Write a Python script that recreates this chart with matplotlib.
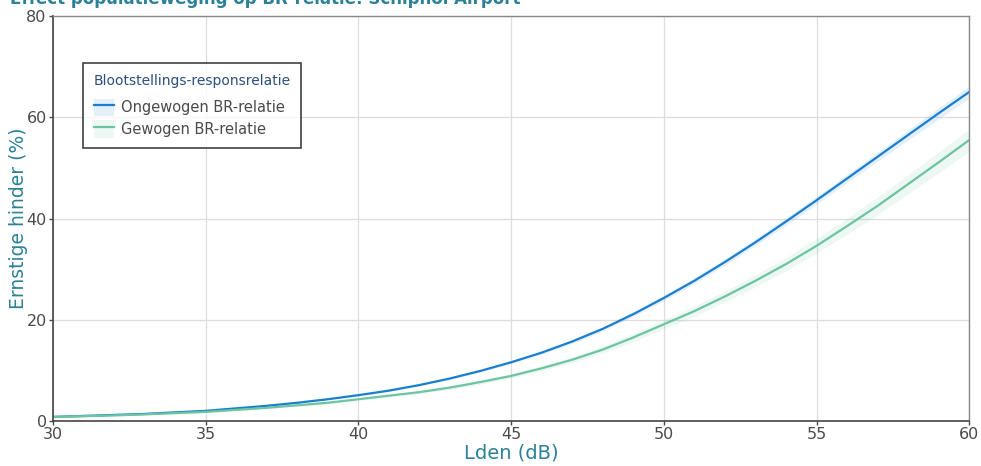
import matplotlib
matplotlib.use("Agg")
import matplotlib.pyplot as plt
from matplotlib.lines import Line2D
from matplotlib.patches import Patch
import numpy as np

# --- data ---
lden = [30, 31, 32, 33, 34, 35, 36, 37, 38, 39, 40, 41, 42, 43, 44, 45,
        46, 47, 48, 49, 50, 51, 52, 53, 54, 55, 56, 57, 58, 59, 60]
ongewogen = [0.8, 1.0, 1.2, 1.4, 1.7, 2.0, 2.5, 3.0, 3.6, 4.3, 5.1, 6.0, 7.1,
             8.4, 9.9, 11.6, 13.5, 15.7, 18.2, 21.1, 24.3, 27.7, 31.4, 35.3,
             39.4, 43.6, 47.9, 52.2, 56.5, 60.8, 65.0]
ongewogen_ci = [0.1, 0.1, 0.1, 0.1, 0.1, 0.1, 0.1, 0.1, 0.1, 0.1, 0.15, 0.15,
                0.15, 0.2, 0.2, 0.25, 0.3, 0.35, 0.4, 0.45, 0.5, 0.55, 0.6,
                0.65, 0.7, 0.75, 0.8, 0.9, 1.0, 1.1, 1.2]
gewogen = [0.8, 0.95, 1.1, 1.3, 1.55, 1.8, 2.2, 2.6, 3.1, 3.6, 4.3, 5.0, 5.7,
           6.6, 7.7, 8.9, 10.4, 12.1, 14.1, 16.5, 19.1, 21.7, 24.6, 27.7,
           31.0, 34.6, 38.5, 42.5, 46.8, 51.1, 55.5]
gewogen_ci = [0.1, 0.1, 0.1, 0.1, 0.1, 0.15, 0.15, 0.15, 0.2, 0.2, 0.25, 0.25,
              0.3, 0.35, 0.4, 0.45, 0.5, 0.6, 0.7, 0.8, 0.9, 1.0, 1.1, 1.2,
              1.3, 1.45, 1.6, 1.75, 1.9, 2.05, 2.2]

BLUE = '#1a7fcf'
GREEN = '#6cc4a0'
TEAL = '#2b8197'
GREY = '#4a4a4a'

fig = plt.figure(figsize=(9.81, 4.66), dpi=100)
ax = fig.add_axes([0.054, 0.0966, 0.934, 0.869])

x = np.array(lden)
for y, ci, col in [(ongewogen, ongewogen_ci, BLUE),
                   (gewogen, gewogen_ci, GREEN)]:
    y = np.array(y)
    ci = np.array(ci)
    ax.fill_between(x, y - ci, y + ci, color=col, alpha=0.12, lw=0)
    ax.plot(x, y, color=col, lw=1.6)

ax.set_xlim(30, 60)
ax.set_ylim(0, 80)
ax.set_xticks([30, 35, 40, 45, 50, 55, 60])
ax.set_yticks([0, 20, 40, 60, 80])
ax.grid(True, color='#dddddd', lw=0.9)
ax.set_axisbelow(True)
ax.tick_params(labelsize=11.5, colors=GREY, length=3, width=1, pad=1.5)
for s in ['left', 'bottom']:
    ax.spines[s].set_color('#444444')
    ax.spines[s].set_linewidth(1.2)
for s in ['top', 'right']:
    ax.spines[s].set_color('#888888')
    ax.spines[s].set_linewidth(1.0)

ax.set_xlabel('Lden (dB)', fontsize=14, color=TEAL, labelpad=1)
ax.set_ylabel('Ernstige hinder (%)', fontsize=13.5, color=TEAL, labelpad=-1.5)

fig.text(0.01, 1 - 4 / 466, 'Effect populatieweging op BR-relatie: Schiphol Airport',
         fontsize=12, fontweight='bold', color=TEAL, ha='left', va='baseline')

handles = [(Patch(facecolor=BLUE, alpha=0.12, lw=0), Line2D([], [], color=BLUE, lw=1.6)),
           (Patch(facecolor=GREEN, alpha=0.12, lw=0), Line2D([], [], color=GREEN, lw=1.6))]
leg = ax.legend(handles, ['Ongewogen BR-relatie', 'Gewogen BR-relatie'],
                title='Blootstellings-responsrelatie', loc='upper left',
                bbox_to_anchor=(0.0328, 0.884), borderaxespad=0,
                fontsize=10.5, title_fontsize=10,
                frameon=True, fancybox=False, edgecolor='#111111',
                handlelength=1.4, handleheight=1.45, handletextpad=0.5,
                borderpad=0.72, labelspacing=0.3, alignment='left')
leg._legend_box.sep = 8  # extra room between legend title and entries
leg.get_frame().set_linewidth(1.2)
leg.get_title().set_color('#2a4f80')
for t in leg.get_texts():
    t.set_color(GREY)

fig.savefig('out.png', dpi=100)
